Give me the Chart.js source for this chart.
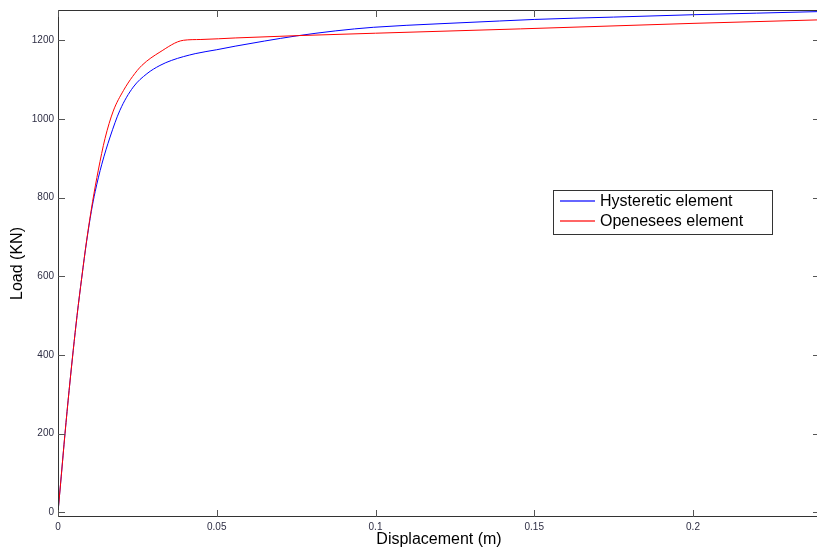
<!DOCTYPE html>
<html>
<head>
<meta charset="utf-8">
<script src="https://cdn.jsdelivr.net/npm/chart.js@4/dist/chart.umd.min.js"></script>
<style>
  html, body { margin: 0; padding: 0; background: #fff; overflow: hidden; }
  canvas { display: block; }
</style>
</head>
<body>
<canvas id="pushover" width="826" height="554"></canvas>
<script>
// pushover curves: displacement (m) vs load (kN)
const hystDisp = [0, 0.001, 0.0022, 0.0035, 0.0048, 0.006, 0.0075, 0.009, 0.0105, 0.0117, 0.0138, 0.0164, 0.0195, 0.0237, 0.028, 0.0321, 0.0358, 0.0432, 0.05, 0.0558, 0.065, 0.075, 0.0875, 0.0993, 0.12, 0.139, 0.15, 0.175, 0.2, 0.22, 0.24];
const hystLoad = [0, 90, 200, 310, 412, 500, 598, 688, 765, 815, 885, 954, 1022, 1081, 1115, 1136, 1149, 1166, 1176, 1185, 1198, 1211, 1224, 1233, 1242, 1249, 1253, 1259, 1265, 1269, 1273];

const opsDisp = [0, 0.001, 0.0022, 0.0035, 0.0048, 0.006, 0.0075, 0.009, 0.0109, 0.0127, 0.0148, 0.0174, 0.0206, 0.0235, 0.0264, 0.0321, 0.0395, 0.045, 0.056, 0.076, 0.1, 0.1456, 0.2, 0.24];
const opsLoad = [0, 90, 200, 310, 412, 500, 598, 690, 790, 870, 950, 1020, 1072, 1108, 1136, 1170, 1200, 1202, 1206, 1212, 1218, 1229, 1243, 1252];

const seriesNames = ["Hysteretic element", "Openesees element"];
const seriesColors = ["#0000ff", "#ff0000"];
const xTicks = [0, 0.05, 0.1, 0.15, 0.2];
const yTicks = [0, 200, 400, 600, 800, 1000, 1200];

const toPoints = (xs, ys) => xs.map((x, i) => ({ x: x, y: ys[i] }));

const axisColor = "#333333";
const labelColor = "#2e2e44";
const fontFamily = "'Liberation Sans', Arial, sans-serif";

// matlab-like box with inward tick marks on all four sides
const boxAxes = {
  id: "boxAxes",
  afterDatasetsDraw(chart) {
    const { ctx, chartArea: a, scales } = chart;
    const len = 7;
    ctx.save();
    ctx.strokeStyle = axisColor;
    ctx.lineWidth = 1;
    ctx.beginPath();
    ctx.rect(a.left + 0.5, a.top + 0.5, a.right - a.left - 1, a.bottom - a.top - 1);
    ctx.stroke();
    ctx.strokeStyle = "#555555";
    ctx.beginPath();
    xTicks.forEach((v) => {
      const px = Math.round(scales.x.getPixelForValue(v)) + 0.5;
      ctx.moveTo(px, a.bottom);
      ctx.lineTo(px, a.bottom - len);
      ctx.moveTo(px, a.top);
      ctx.lineTo(px, a.top + len);
    });
    yTicks.forEach((v) => {
      const py = Math.round(scales.y.getPixelForValue(v)) + 0.5;
      ctx.moveTo(a.left, py);
      ctx.lineTo(a.left + len, py);
      ctx.moveTo(a.right, py);
      ctx.lineTo(a.right - len, py);
    });
    ctx.stroke();
    ctx.restore();
  },
  afterDraw(chart) {
    // legend box inside the plot
    const { ctx } = chart;
    const bx = 553, by = 190, bw = 219, bh = 44;
    ctx.save();
    ctx.fillStyle = "#ffffff";
    ctx.fillRect(bx, by, bw, bh);
    ctx.strokeStyle = axisColor;
    ctx.lineWidth = 1;
    ctx.strokeRect(bx + 0.5, by + 0.5, bw, bh);
    ctx.font = "16px " + fontFamily;
    ctx.textBaseline = "middle";
    seriesNames.forEach((name, i) => {
      const y = by + 10 + i * 20;
      ctx.globalAlpha = 0.6;
      ctx.fillStyle = seriesColors[i];
      ctx.fillRect(bx + 7, y, 35, 2);
      ctx.globalAlpha = 1;
      ctx.fillStyle = "#000000";
      ctx.fillText(name, bx + 47, y + 2);
    });
    ctx.restore();
  }
};

new Chart(document.getElementById("pushover"), {
  type: "line",
  data: {
    datasets: [
      {
        label: seriesNames[0],
        data: toPoints(hystDisp, hystLoad),
        borderColor: seriesColors[0],
        borderWidth: 1,
        pointRadius: 0,
        cubicInterpolationMode: "monotone",
        order: 1,
      },
      {
        label: seriesNames[1],
        data: toPoints(opsDisp, opsLoad),
        borderColor: seriesColors[1],
        borderWidth: 1,
        pointRadius: 0,
        cubicInterpolationMode: "monotone",
        order: 0,
      },
    ],
  },
  options: {
    responsive: false,
    animation: false,
    layout: { padding: { top: 9, right: 6, left: 0, bottom: 0 } },
    scales: {
      x: {
        type: "linear",
        min: 0,
        max: 0.24,
        afterBuildTicks: (scale) => { scale.ticks = xTicks.map((v) => ({ value: v })); },
        afterFit: (scale) => { scale.height = 37; },
        grid: { display: false, drawTicks: false },
        border: { display: false },
        ticks: {
          padding: 4,
          maxRotation: 0,
          color: labelColor,
          font: { family: fontFamily, size: 10 },
          callback: (v) => String(v),
        },
        title: {
          display: true,
          text: "Displacement (m)",
          color: "#000000",
          font: { family: fontFamily, size: 16 },
          padding: { top: 0, bottom: 5 },
        },
      },
      y: {
        min: -12,
        max: 1277,
        afterBuildTicks: (scale) => { scale.ticks = yTicks.map((v) => ({ value: v })); },
        afterFit: (scale) => { scale.width = 58; },
        grid: { display: false, drawTicks: false },
        border: { display: false },
        ticks: {
          padding: 4,
          color: labelColor,
          font: { family: fontFamily, size: 10 },
          callback: (v) => String(v),
        },
        title: {
          display: true,
          text: "Load (KN)",
          color: "#000000",
          font: { family: fontFamily, size: 16 },
          padding: { top: 8, bottom: 0 },
        },
      },
    },
    plugins: {
      legend: { display: false },
      tooltip: { enabled: false },
    },
  },
  plugins: [boxAxes],
});
</script>
</body>
</html>
